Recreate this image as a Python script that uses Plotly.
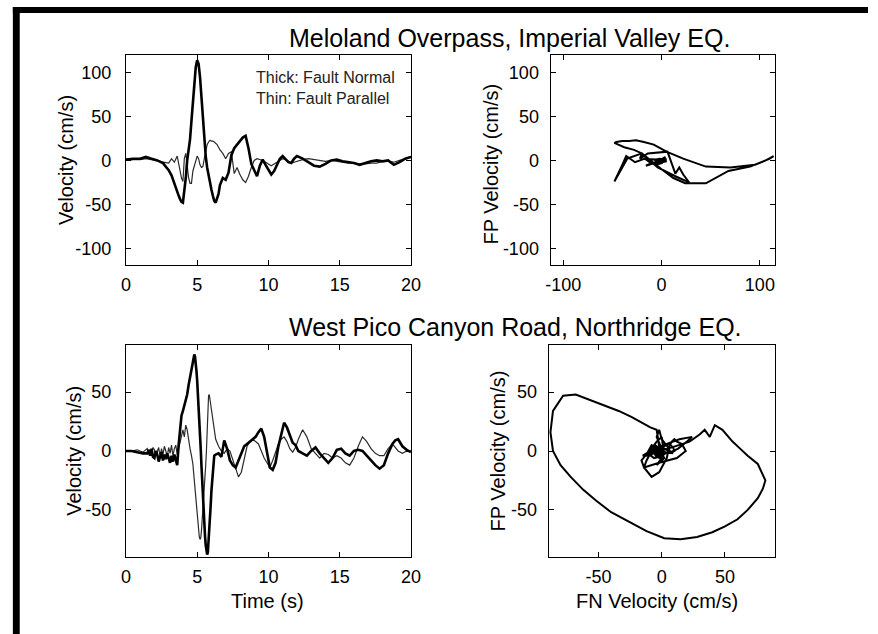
import plotly.graph_objects as go

# ---------------- data: Meloland Overpass, Imperial Valley EQ. ----------------
IV_T = [0, 0.5, 1.0, 1.4, 1.8, 2.2, 2.6, 3.0, 3.2, 3.4,
        3.6, 3.7, 3.8, 3.9, 4.0, 4.1, 4.2, 4.3, 4.4, 4.5,
        4.6, 4.7, 4.8, 4.9, 5.0, 5.1, 5.2, 5.3, 5.4, 5.5,
        5.6, 5.7, 5.8, 5.9, 6.0, 6.1, 6.2, 6.3, 6.4, 6.5,
        6.6, 6.8, 7.0, 7.2, 7.4, 7.6, 7.8, 8.0, 8.2, 8.4,
        8.6, 8.8, 9.0, 9.2, 9.4, 9.6, 9.8, 10.0, 10.2, 10.4,
        10.6, 10.8, 11.0, 11.2, 11.4, 11.6, 11.8, 12.0, 12.4, 12.8,
        13.2, 13.6, 14.0, 14.4, 14.8, 15.2, 15.6, 16.0, 16.4, 16.8,
        17.2, 17.6, 18.0, 18.4, 18.8, 19.2, 19.6, 20.0]
# fault normal (thick)
IV_FN = [1, 2, 2, 4, 2, 0, -3, -11, -17, -27,
         -36, -40, -44, -47, -48, -35, -20, 0, 12, 24,
         45, 68, 90, 106, 114, 110, 95, 70, 45, 22,
         5, -8, -18, -26, -33, -40, -46, -48, -44, -38,
         -28, -20, -22, -14, 6, 14, 18, 22, 26, 28,
         14, -4, -12, -18, -6, 1, -5, -10, -16, -12,
         -4, 2, 5, 2, -2, -3, 2, 5, 2, -2,
         -6, -7, -4, 0, 1, -1, -2, -3, -5, -3,
         -1, 0, -1, 0, -5, -2, 2, 4]
# fault parallel (thin)
IV_FP = [0, 1, 1, 2, 1, 0, -2, -3, 2, -2,
         5, -5, -14, -20, -24, 2, 8, -10, -20, -26,
         -26, -12, -7, 0, 5, 2, -5, -8, -7, 2,
         10, 18, 21, 23, 22, 22, 21, 20, 18, 15,
         12, 8, 2, 8, 10, -15, -8, -16, -22, -25,
         -18, -8, 0, 2, 1, 0, -2, -4, -6, -4,
         -2, 0, 2, 1, -1, -3, -2, -1, 1, 2,
         1, 0, -1, 0, -1, -2, -3, -3, -4, -4,
         -3, -3, -1, -1, -2, 0, 2, 4]

# ---------------- data: West Pico Canyon Road, Northridge EQ. ----------------
NR_T = [0, 0.4, 0.8, 1.2, 1.5, 1.6, 1.7, 1.8, 1.9, 2.0,
        2.1, 2.2, 2.3, 2.4, 2.5, 2.6, 2.7, 2.8, 2.9, 3.0,
        3.1, 3.2, 3.3, 3.4, 3.5, 3.6, 3.7, 3.8, 3.9, 4.0,
        4.1, 4.2, 4.3, 4.4, 4.5, 4.6, 4.7,
        4.8, 4.85, 4.9, 4.95, 5.0, 5.05, 5.1, 5.15, 5.2, 5.25,
        5.3, 5.35, 5.4, 5.45, 5.5, 5.55, 5.6, 5.65, 5.7, 5.75,
        5.8, 5.85, 5.9, 5.95, 6.0, 6.05, 6.1, 6.15, 6.2,
        6.3, 6.5, 6.7, 6.9, 7.1, 7.3, 7.5, 7.7,
        7.9, 8.1, 8.3, 8.5, 8.7, 8.9, 9.1, 9.3, 9.5, 9.7,
        9.9, 10.1, 10.3, 10.5, 10.7, 10.9, 11.1, 11.3, 11.5, 11.7,
        11.9, 12.1, 12.4, 12.7, 13.0, 13.3, 13.6, 13.9, 14.2, 14.5,
        14.8, 15.1, 15.4, 15.7, 16.0, 16.3, 16.6, 16.9, 17.2, 17.5,
        17.8, 18.1, 18.4, 18.7, 18.9, 19.1, 19.4, 19.7, 20.0]
NR_FN = [0, 0, -1, -2, -2, 1, -4, 2, -5, -6,
         0, -3, -9, -4, -1, -8, -3, -7, -2, -6,
         -10, -4, -9, -3, -8, -12, 5, 22, 30, 34,
         38, 42, 48, 56, 62, 68, 76,
         82, 80, 76, 68, 60, 50, 40, 28, 15, 2,
         -12, -26, -40, -52, -62, -72, -80, -86, -88, -86,
         -78, -68, -58, -46, -34, -24, -15, -9, -4,
         -3, -2, -5, 9, 2, -8, -12, -14,
         -8, -2, 4, 6, 8, 10, 12, 16, 19, 12,
         -2, -14, -16, -10, 4, 14, 24, 20, 13, 7,
         5, 0, -2, -4, 0, 3, -2, -6, -10, -6,
         1, 2, -2, -4, 0, 1, 0, -4, -8, -12,
         -15, -12, -2, 6, 9, 10, 4, 1, -1]
NR_FP = [0, 0, 1, -1, 2, -2, 1, -3, 3, 1,
         -4, -1, 3, -5, 2, -3, 4, 0, -5, 3,
         -2, 5, -4, 2, 5, -3, 2, 8, 14, 18,
         12, 22, 18, 8, 2, -4, -11,
         -25, -32, -40, -50, -58, -64, -69, -73, -75, -74,
         -68, -60, -52, -42, -33, -22, -12, 0, 16, 34,
         47, 48, 44, 39, 34, 29, 24, 20, 18,
         10, 4, 0, -2, 2, 0, -8, -14,
         -22, -18, -6, 4, 8, 10, 8, 6, 0, -6,
         -10, -14, -8, 0, 6, 10, 12, 8, 2, -1,
         3, 10, 18, 12, 2, -2, -6, -2, -3, -6,
         -4, -6, -10, -12, -6, 4, 12, 8, 2, -2,
         -4, -4, 2, 6, 3, 0, -2, 0, 0]

# ---------------- tick labels ----------------
TIME_TICKS = [0, 5, 10, 15, 20]
IV_VEL_TICKS = [-100, -50, 0, 50, 100]
IV_FN_TICKS = [-100, 0, 100]
NR_VEL_TICKS = [-50, 0, 50]

TITLES = ["Meloland Overpass, Imperial Valley EQ.",
          "West Pico Canyon Road, Northridge EQ."]

W, H = 878, 634
FONT = "Liberation Sans, Arial, Helvetica, sans-serif"


def fx(px):
    return px / W


def fy(py):
    return 1 - py / H


fig = go.Figure()

thin = dict(color="#2b2b2b", width=1.2)
thick = dict(color="black", width=2.6)
hodo = dict(color="black", width=2.0)

fig.add_trace(go.Scatter(x=IV_T, y=IV_FP, mode="lines", line=thin, xaxis="x", yaxis="y"))
fig.add_trace(go.Scatter(x=IV_T, y=IV_FN, mode="lines", line=thick, xaxis="x", yaxis="y"))
fig.add_trace(go.Scatter(x=IV_FN, y=IV_FP, mode="lines", line=hodo, xaxis="x2", yaxis="y2"))
fig.add_trace(go.Scatter(x=NR_T, y=NR_FP, mode="lines", line=thin, xaxis="x3", yaxis="y3"))
fig.add_trace(go.Scatter(x=NR_T, y=NR_FN, mode="lines", line=thick, xaxis="x3", yaxis="y3"))
fig.add_trace(go.Scatter(x=NR_FN, y=NR_FP, mode="lines", line=hodo, xaxis="x4", yaxis="y4"))
fig.update_traces(showlegend=False, hoverinfo="skip")


def ax(domain, rng, ticks, anchor, standoff):
    return dict(domain=domain, range=rng, tickvals=ticks,
                ticktext=[str(v) for v in ticks], anchor=anchor,
                showline=True, linecolor="black", linewidth=1, mirror="ticks",
                ticks="inside", ticklen=5, tickwidth=1, tickcolor="black",
                showgrid=False, zeroline=False, fixedrange=True,
                ticklabelstandoff=standoff,
                tickfont=dict(family=FONT, size=18, color="black"))


top_y = [fy(265), fy(55)]
bot_y = [fy(557), fy(345)]

fig.update_layout(
    width=W, height=H, autosize=False,
    margin=dict(l=0, r=0, t=0, b=0),
    paper_bgcolor="white", plot_bgcolor="white",
    font=dict(family=FONT, color="black"),
    xaxis=ax([fx(123), fx(413)], [0, 20], TIME_TICKS, "y", 3),
    yaxis=ax(top_y, [-119, 120], IV_VEL_TICKS, "x", 10),
    xaxis2=ax([fx(555), fx(783)], [-113, 115], IV_FN_TICKS, "y2", 3),
    yaxis2=ax(top_y, [-119, 120], IV_VEL_TICKS, "x2", 7),
    xaxis3=ax([fx(123), fx(413)], [0, 20], TIME_TICKS, "y3", 3),
    yaxis3=ax(bot_y, [-90, 90], NR_VEL_TICKS, "x3", 10),
    xaxis4=ax([fx(553), fx(783)], [-89.5, 89.3], NR_VEL_TICKS, "y4", 3),
    yaxis4=ax(bot_y, [-90, 90], NR_VEL_TICKS, "x4", 7),
)

annos = []


def text(s, x, y, size, angle=0, xanchor="center", color="black"):
    annos.append(dict(text=s, x=fx(x), y=fy(y), xref="paper", yref="paper",
                      showarrow=False, xanchor=xanchor, yanchor="middle",
                      textangle=angle, font=dict(family=FONT, size=size, color=color)))


text(TITLES[0], 287, 38, 25, xanchor="left")
text(TITLES[1], 287, 327, 25, xanchor="left")
text("Velocity (cm/s)", 62, 160, 20, angle=-90)
text("FP Velocity (cm/s)", 494, 164, 20, angle=-90)
text("Velocity (cm/s)", 70, 451, 20, angle=-90)
text("FP Velocity (cm/s)", 502, 451, 20, angle=-90)
text("Time (s)", 267, 601, 20)
text("FN Velocity (cm/s)", 663, 601, 20)
text("Thick: Fault Normal", 253, 77, 16, xanchor="left", color="#222")
text("Thin: Fault Parallel", 253, 98, 16, xanchor="left", color="#222")

fig.update_layout(annotations=annos)

fig.update_layout(shapes=[
    dict(type="rect", xref="paper", yref="paper", x0=fx(8), x1=1, y0=fy(13), y1=fy(7),
         fillcolor="black", line=dict(width=0)),
    dict(type="rect", xref="paper", yref="paper", x0=fx(8), x1=fx(15), y0=0, y1=fy(7),
         fillcolor="black", line=dict(width=0)),
])

fig.write_html(
    "out.html",
    config={"displayModeBar": False},
    post_script=(
        "document.documentElement.style.margin='0px';"
        "document.documentElement.style.overflow='hidden';"
        "document.body.style.margin='0px';document.body.style.padding='0px';"
        "document.body.style.overflow='hidden';"
        "var d=document.getElementById('{plot_id}');"
        "d.style.position='fixed';d.style.left='0px';d.style.top='0px';"
    ),
)
